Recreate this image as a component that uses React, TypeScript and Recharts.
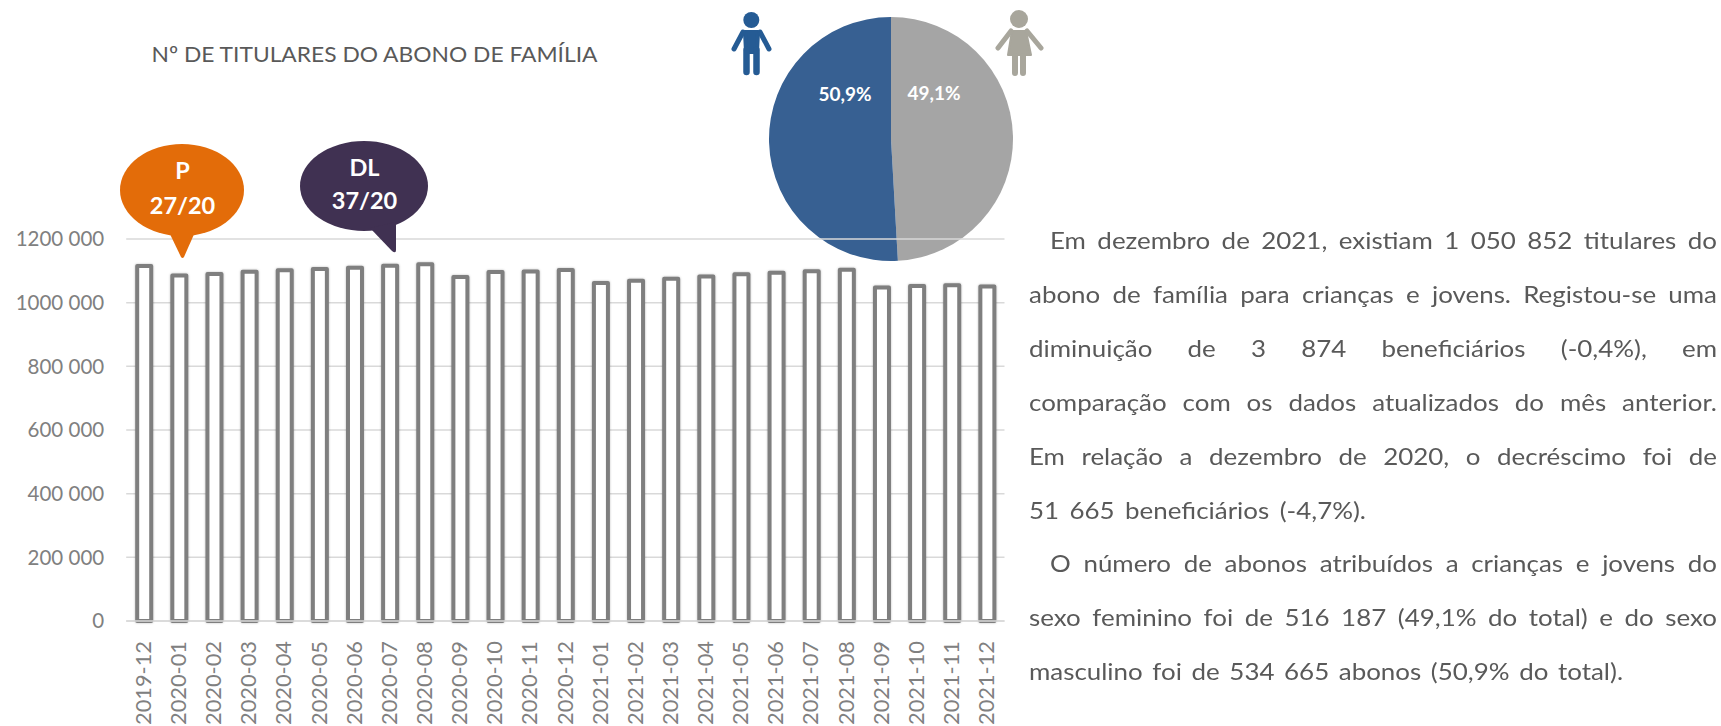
import { BarChart, Bar, XAxis, YAxis, CartesianGrid, PieChart, Pie, Cell } from 'recharts';

const months = [
  '2019-12', '2020-01', '2020-02', '2020-03', '2020-04', '2020-05', '2020-06', '2020-07', '2020-08',
  '2020-09', '2020-10', '2020-11', '2020-12', '2021-01', '2021-02', '2021-03', '2021-04', '2021-05',
  '2021-06', '2021-07', '2021-08', '2021-09', '2021-10', '2021-11', '2021-12',
];
const holders = [
  1115000, 1085000, 1090000, 1097000, 1101500, 1105500, 1110000, 1116000, 1121000,
  1081000, 1096000, 1098000, 1102517, 1062000, 1069000, 1075000, 1082500, 1089000,
  1094000, 1099000, 1103500, 1048000, 1052000, 1054726, 1050852,
];
const yTicks = [0, 200000, 400000, 600000, 800000, 1000000, 1200000];
const sexLabels = ['Feminino', 'Masculino'];
const sexShares = [49.1, 50.9];
const sexColors = ['#a5a5a5', '#376092'];

const paragraphLines = [
  { text: 'Em dezembro de 2021, existiam 1 050 852 titulares do', left: 1050, right: 1717 },
  { text: 'abono de família para crianças e jovens. Registou-se uma', left: 1029, right: 1717 },
  { text: 'diminuição de 3 874 beneficiários (-0,4%), em', left: 1029, right: 1717 },
  { text: 'comparação com os dados atualizados do mês anterior.', left: 1029, right: 1717 },
  { text: 'Em relação a dezembro de 2020, o decréscimo foi de', left: 1029, right: 1717 },
  { text: '51 665 beneficiários (-4,7%).', left: 1029, right: 1366 },
  { text: 'O número de abonos atribuídos a crianças e jovens do', left: 1050, right: 1717 },
  { text: 'sexo feminino foi de 516 187 (49,1% do total) e do sexo', left: 1029, right: 1717 },
  { text: 'masculino foi de 534 665 abonos (50,9% do total).', left: 1029, right: 1623 },
];

const chartData = months.map((month, i) => ({ month, holders: holders[i] }));
const pieData = sexLabels.map((name, i) => ({ name, value: sexShares[i] }));

const FONT = 'Lato, sans-serif';
const GRID = '#d9d9d9';
const AXIS_TEXT = '#808080';
const TEXT_STRETCH = 1.08;

const formatTick = (v: number) => {
  if (v === 0) return '0';
  const thousands = Math.floor(v / 1000);
  return `${thousands} 000`;
};

function MonthTick({ x, y, payload }: any) {
  return (
    <text
      transform={`translate(${x}, ${y + 12}) rotate(-90)`}
      textAnchor="end"
      dy="0.35em"
      fontFamily={FONT}
      fontSize={20.5}
      fill={AXIS_TEXT}
      textLength={84}
      lengthAdjust="spacingAndGlyphs"
    >
      {payload.value}
    </text>
  );
}

function PieLabel({ cx, cy, index }: any) {
  const text = `${sexShares[index].toFixed(1).replace('.', ',')}%`;
  const dx = index === 0 ? 43 : -46;
  const dy = index === 0 ? -46 : -45;
  return (
    <text x={cx + dx} y={cy + dy} textAnchor="middle" dy="0.35em" fontFamily={FONT} fontSize={19} fontWeight={700} fill="#ffffff">
      {text}
    </text>
  );
}

function Callouts() {
  return (
    <svg width={1721} height={726} style={{ position: 'absolute', left: 0, top: 0 }}>
      <text x={151.5} y={62} fontFamily={FONT} fontSize={22} fill="#595959" textLength={446} lengthAdjust="spacingAndGlyphs">
        Nº DE TITULARES DO ABONO DE FAMÍLIA
      </text>

      <ellipse cx={182} cy={190} rx={62} ry={46} fill="#e36c09" />
      <path d="M169 232 L181 257 Q182.5 259 184 257 L195 232 Z" fill="#e36c09" />
      <text x={182.5} y={179} textAnchor="middle" fontFamily={FONT} fontSize={23.5} fontWeight={700} fill="#fff">P</text>
      <text x={182.5} y={214} textAnchor="middle" fontFamily={FONT} fontSize={23.5} fontWeight={700} fill="#fff">27/20</text>

      <ellipse cx={364} cy={186} rx={64} ry={45} fill="#403152" />
      <path d="M370 228 L392 251 Q396 254 396 250 L396 222 Z" fill="#403152" />
      <text x={364.5} y={176} textAnchor="middle" fontFamily={FONT} fontSize={23.5} fontWeight={700} fill="#fff">DL</text>
      <text x={364.5} y={209} textAnchor="middle" fontFamily={FONT} fontSize={23.5} fontWeight={700} fill="#fff">37/20</text>

      <g fill="#255b94" stroke="#255b94" strokeLinecap="round" strokeLinejoin="round">
        <circle cx={751.3} cy={20} r={8} stroke="none" />
        <path d="M745 32 L758 32 L757 52 L746 52 Z" strokeWidth={4} />
        <path d="M743 32 L734 49 M760 32 L769 49" strokeWidth={5} fill="none" />
        <path d="M746.5 50 L746.5 72 M756.5 50 L756.5 72" strokeWidth={6.5} fill="none" />
      </g>

      <g fill="#a8a69c" stroke="#a8a69c" strokeLinecap="round" strokeLinejoin="round">
        <circle cx={1019} cy={19} r={9} stroke="none" />
        <path d="M1012 31 L1026 31 L1031 55 L1008 55 Z" strokeWidth={2} />
        <path d="M1011 31 L998 48 M1027 31 L1041 48" strokeWidth={5} fill="none" />
        <path d="M1015 56 L1015 73 M1023 56 L1023 73" strokeWidth={6} fill="none" />
      </g>
    </svg>
  );
}

export default function App() {
  return (
    <div style={{ position: 'absolute', left: 0, top: 0, width: 1721, height: 726, overflow: 'hidden', background: '#fff', fontFamily: FONT }}>
      <div style={{ position: 'absolute', left: 0, top: 0 }}>
        <PieChart width={1721} height={726} margin={{ top: 0, right: 0, bottom: 0, left: 0 }}>
          <Pie
            data={pieData}
            dataKey="value"
            cx={891}
            cy={139}
            outerRadius={122}
            startAngle={90}
            endAngle={-270}
            stroke="none"
            label={PieLabel}
            labelLine={false}
            isAnimationActive={false}
          >
            {pieData.map((d, i) => (
              <Cell key={d.name} fill={sexColors[i]} />
            ))}
          </Pie>
        </PieChart>
      </div>

      <div style={{ position: 'absolute', left: 0, top: 0 }}>
        <BarChart width={1721} height={726} data={chartData} margin={{ top: 239, right: 716.5, bottom: 0, left: 0 }}>
          <CartesianGrid vertical={false} stroke={GRID} strokeWidth={1.5} />
          <XAxis
            dataKey="month"
            interval={0}
            height={105}
            axisLine={{ stroke: GRID, strokeWidth: 1.5 }}
            tickLine={false}
            tick={MonthTick}
          />
          <YAxis
            width={126.2}
            domain={[0, 1200000]}
            ticks={yTicks}
            axisLine={false}
            tickLine={false}
            tickSize={0}
            tickMargin={22}
            tickFormatter={formatTick}
            tick={{ fontFamily: FONT, fontSize: 20.5, fill: AXIS_TEXT }}
          />
          <Bar
            dataKey="holders"
            barSize={14}
            fill="#ffffff"
            stroke="#7f7f7f"
            strokeWidth={4}
            strokeLinejoin="round"
            style={{ filter: 'drop-shadow(0 0 1px rgba(0,0,0,0.25))' }}
            isAnimationActive={false}
          />
        </BarChart>
      </div>

      <Callouts />

      {paragraphLines.map((line, i) => (
        <div
          key={line.text}
          style={{
            position: 'absolute',
            left: line.left,
            width: (line.right - line.left) / TEXT_STRETCH,
            top: 240 + i * 53.9 - 15,
            height: 30,
            lineHeight: '30px',
            fontSize: 24,
            color: '#595959',
            whiteSpace: 'nowrap',
            textAlign: 'justify',
            textAlignLast: 'justify',
            transform: `scaleX(${TEXT_STRETCH})`,
            transformOrigin: 'left center',
          }}
        >
          {line.text}
        </div>
      ))}
    </div>
  );
}
